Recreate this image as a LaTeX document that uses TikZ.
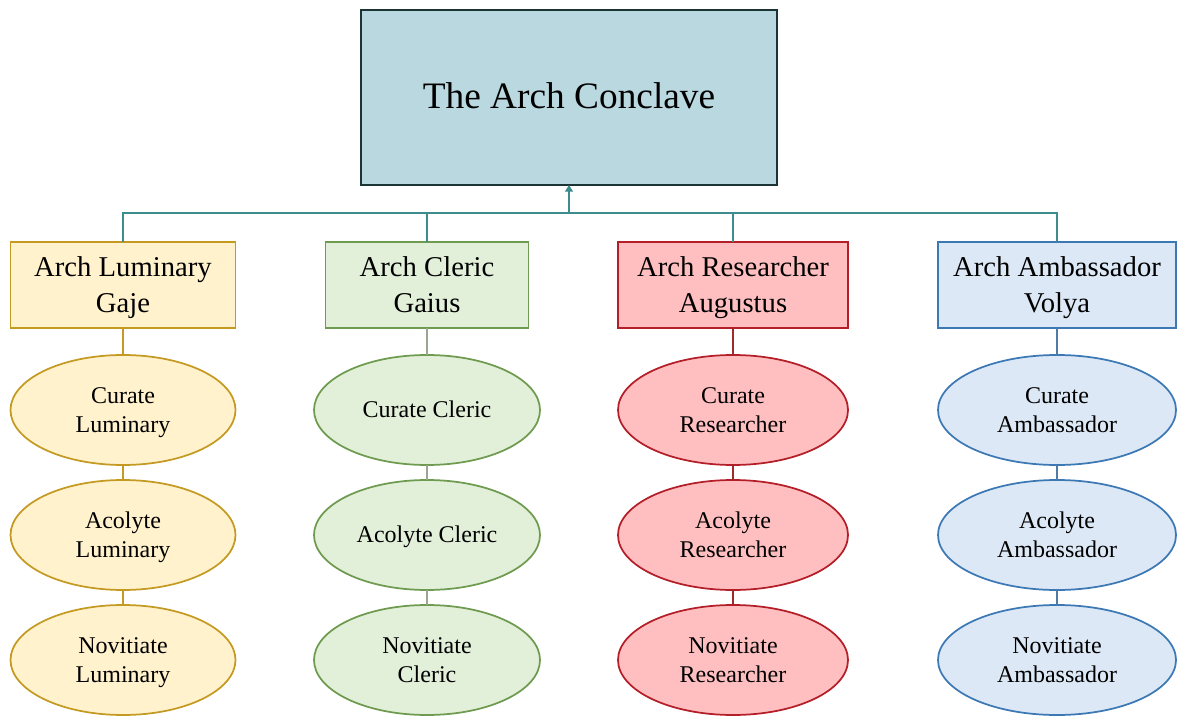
\documentclass[tikz,border=0pt]{standalone}
\usepackage{fontspec}
\setmainfont{Liberation Serif}
\usetikzlibrary{shapes.geometric,arrows.meta}
\definecolor{topfill}{HTML}{B9D8E0}
\definecolor{topdraw}{HTML}{1B3535}
\definecolor{buscol}{HTML}{3E8C8C}
\definecolor{lumfill}{HTML}{FFF2CC}
\definecolor{lumdraw}{HTML}{C49A22}
\definecolor{clefill}{HTML}{E2EFD9}
\definecolor{cledraw}{HTML}{6E9B50}
\definecolor{clelink}{HTML}{9AA592}
\definecolor{resfill}{HTML}{FFBFC0}
\definecolor{resdraw}{HTML}{B41E28}
\definecolor{reslink}{HTML}{9E2A2A}
\definecolor{ambfill}{HTML}{DCE8F5}
\definecolor{ambdraw}{HTML}{3C78B4}
\definecolor{amblink}{HTML}{4F7CA6}
\newcommand{\topstrut}{\rule{0pt}{\dimexpr0.7\baselineskip+3pt\relax}}
\newcommand{\tw}[2]{\topstrut #1\\\strut #2}
\newcommand{\one}[1]{\topstrut\strut #1}
\tikzset{
  topbox/.style={draw=topdraw,fill=topfill,line width=2.2pt,minimum width={416*0.75pt},minimum height={175*0.75pt},inner sep=0pt,outer sep=0pt,font={\fontsize{28}{34}\selectfont}},
  headbox/.style={rectangle,line width=1.4pt,minimum height={86*0.75pt},inner sep=0pt,outer sep=0pt,align=center,font={\fontsize{21.5}{27}\selectfont}},
  rankoval/.style={ellipse,line width=1.3pt,minimum height={110*0.75pt},inner sep=0pt,outer sep=0pt,align=center,font={\fontsize{18}{22}\selectfont}},
  bus/.style={draw=buscol,line width=0.9pt},
  link/.style={line width=0.9pt},
}
\begin{document}
\begin{tikzpicture}[x=0.75pt,y=-0.75pt]
\useasboundingbox (0,0) rectangle (1177,716);
\node[topbox] (top) at (569,97.5) {\one{The Arch Conclave}};
% level 2
\node[headbox,draw=lumdraw,fill=lumfill,minimum width={225*0.75pt}] (lum) at (123,285) {\tw{Arch Luminary}{Gaje}};
\node[headbox,draw=cledraw,fill=clefill,minimum width={203*0.75pt}] (cle) at (427,285) {\tw{Arch Cleric}{Gaius}};
\node[headbox,draw=resdraw,fill=resfill,minimum width={230*0.75pt}] (res) at (733,285) {\tw{Arch Researcher}{Augustus}};
\node[headbox,draw=ambdraw,fill=ambfill,minimum width={238*0.75pt}] (amb) at (1057,285) {\tw{Arch Ambassador}{Volya}};
% luminary column
\node[rankoval,draw=lumdraw,fill=lumfill,minimum width={225*0.75pt}] (lum1) at (123,410) {\tw{Curate}{Luminary}};
\node[rankoval,draw=lumdraw,fill=lumfill,minimum width={225*0.75pt}] (lum2) at (123,535) {\tw{Acolyte}{Luminary}};
\node[rankoval,draw=lumdraw,fill=lumfill,minimum width={225*0.75pt}] (lum3) at (123,660) {\tw{Novitiate}{Luminary}};
% cleric column
\node[rankoval,draw=cledraw,fill=clefill,minimum width={226*0.75pt}] (cle1) at (427,410) {\one{Curate Cleric}};
\node[rankoval,draw=cledraw,fill=clefill,minimum width={226*0.75pt}] (cle2) at (427,535) {\one{Acolyte Cleric}};
\node[rankoval,draw=cledraw,fill=clefill,minimum width={226*0.75pt}] (cle3) at (427,660) {\tw{Novitiate}{Cleric}};
% researcher column
\node[rankoval,draw=resdraw,fill=resfill,minimum width={230*0.75pt}] (res1) at (733,410) {\tw{Curate}{Researcher}};
\node[rankoval,draw=resdraw,fill=resfill,minimum width={230*0.75pt}] (res2) at (733,535) {\tw{Acolyte}{Researcher}};
\node[rankoval,draw=resdraw,fill=resfill,minimum width={230*0.75pt}] (res3) at (733,660) {\tw{Novitiate}{Researcher}};
% ambassador column
\node[rankoval,draw=ambdraw,fill=ambfill,minimum width={238*0.75pt}] (amb1) at (1057,410) {\tw{Curate}{Ambassador}};
\node[rankoval,draw=ambdraw,fill=ambfill,minimum width={238*0.75pt}] (amb2) at (1057,535) {\tw{Acolyte}{Ambassador}};
\node[rankoval,draw=ambdraw,fill=ambfill,minimum width={238*0.75pt}] (amb3) at (1057,660) {\tw{Novitiate}{Ambassador}};
% bus
\coordinate (bj) at (569,213);
\draw[bus] (lum.north) -- (lum.north |- bj) -- (amb.north |- bj) -- (amb.north);
\draw[bus] (cle.north) -- (cle.north |- bj);
\draw[bus] (res.north) -- (res.north |- bj);
\draw[bus,-{Triangle[length=5pt,width=6pt]}] (bj) -- (top.south);
% column links
\draw[link,draw=lumdraw] (lum.south) -- (lum1.north) (lum1.south) -- (lum2.north) (lum2.south) -- (lum3.north);
\draw[link,draw=clelink] (cle.south) -- (cle1.north) (cle1.south) -- (cle2.north) (cle2.south) -- (cle3.north);
\draw[link,draw=reslink] (res.south) -- (res1.north) (res1.south) -- (res2.north) (res2.south) -- (res3.north);
\draw[link,draw=amblink] (amb.south) -- (amb1.north) (amb1.south) -- (amb2.north) (amb2.south) -- (amb3.north);
\end{tikzpicture}
\end{document}
